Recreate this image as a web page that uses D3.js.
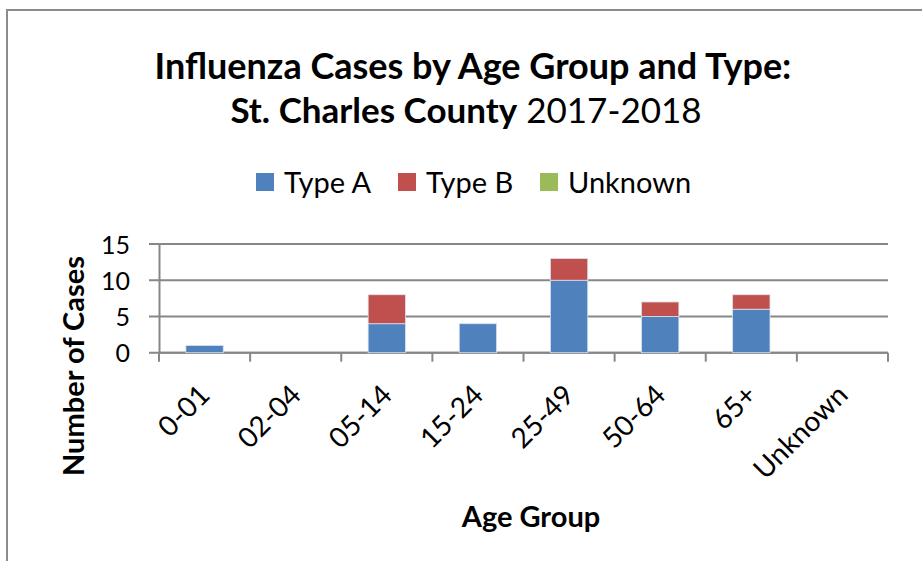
<!DOCTYPE html>
<html><head><meta charset="utf-8">
<script src="https://cdn.jsdelivr.net/npm/d3@7"></script>
<style>body{margin:0;background:#fff;} svg{display:block;}</style>
</head><body>
<script>
const categories = ["0-01","02-04","05-14","15-24","25-49","50-64","65+","Unknown"];
const seriesNames = ["Type A","Type B","Unknown"];
const typeA = [1,0,4,4,10,5,6,0];
const typeB = [0,0,4,0,3,2,2,0];
const typeUnknown = [0,0,0,0,0,0,0,0];
const yTicks = [0,5,10,15];
const colors = ["#4F81BD","#C0504D","#9BBB59"];

(function(){
const W = 922, H = 561;
const FONT = "Lato, 'Open Sans', sans-serif";
const svg = d3.select("body").append("svg").attr("width", W).attr("height", H);
svg.append("rect").attr("width", W).attr("height", H).attr("fill", "#fff");
// outer border
svg.append("rect").attr("x", 7).attr("y", 10).attr("width", 930).attr("height", 570)
  .attr("fill", "none").attr("stroke", "#8c8c8c").attr("stroke-width", 2);

const pLeft = 159, pRight = 888, pTop = 244, pBottom = 352.7;
const x = d3.scaleBand().domain(categories).range([pLeft, pRight]).padding(0);
const y = d3.scaleLinear().domain([0, 15]).range([pBottom, pTop]);

// gridlines
svg.append("g").selectAll("line").data(yTicks).join("line")
  .attr("x1", pLeft - 10).attr("x2", pRight).attr("y1", d => y(d)).attr("y2", d => y(d))
  .attr("stroke", "#878787").attr("stroke-width", 2);

// y axis
const yAxis = svg.append("g").attr("transform", `translate(${pLeft},0)`)
  .call(d3.axisLeft(y).tickValues(yTicks).tickSize(0).tickPadding(29));
yAxis.select(".domain").attr("stroke", "#878787").attr("stroke-width", 2);
yAxis.selectAll("text").attr("font-family", FONT).attr("font-size", 25).attr("fill", "#000")
  .attr("dy", "0.36em");

// x axis
const xAxis = svg.append("g").attr("transform", `translate(0,${pBottom})`)
  .call(d3.axisBottom(x).tickSize(0).tickFormat(""));
xAxis.select(".domain").remove();
const bounds = categories.map(c => x(c)).concat([pRight]);
xAxis.selectAll("line.b").data(bounds).join("line").attr("class","b")
  .attr("x1", d => d).attr("x2", d => d).attr("y1", 0).attr("y2", 9)
  .attr("stroke", "#878787").attr("stroke-width", 2);
svg.append("line").attr("x1", pLeft).attr("x2", pRight).attr("y1", pBottom).attr("y2", pBottom)
  .attr("stroke", "#878787").attr("stroke-width", 2);

// x labels
svg.append("g").selectAll("text").data(categories).join("text")
  .attr("transform", d => `translate(${x(d) + x.bandwidth()/2 + 7},${pBottom + 44}) rotate(-45)`)
  .attr("text-anchor", "end").attr("font-family", FONT).attr("font-size", 28).attr("fill", "#000")
  .text(d => d);

// bars
const table = categories.map((c, i) => ({cat: c, "Type A": typeA[i], "Type B": typeB[i], "Unknown": typeUnknown[i]}));
const stack = d3.stack().keys(seriesNames)(table);
const bw = x.bandwidth() * 0.41;
svg.append("g").selectAll("g").data(stack).join("g").attr("fill", (d, i) => colors[i])
  .selectAll("rect").data(d => d).join("rect")
  .attr("x", d => x(d.data.cat) + (x.bandwidth() - bw)/2)
  .attr("width", bw)
  .attr("y", d => y(d[1]))
  .attr("height", d => y(d[0]) - y(d[1]))
  .attr("stroke", d => (d[1] - d[0]) > 0 ? "#dbe3ef" : "none").attr("stroke-width", 0.8);

// title
const cx = 470;
svg.append("text").attr("x", 473).attr("y", 79).attr("text-anchor", "middle")
  .attr("font-family", FONT).attr("font-size", 36).attr("font-weight", "bold").attr("fill", "#000")
  .text("Influenza Cases by Age Group and Type:");
const t2 = svg.append("text").attr("x", 466).attr("y", 123).attr("text-anchor", "middle")
  .attr("font-family", FONT).attr("font-size", 35).attr("fill", "#000");
t2.append("tspan").attr("font-weight", "bold").text("St. Charles County");
t2.append("tspan").text(" 2017-2018");

// legend
const legendX = [256, 398, 540];
const lg = svg.append("g").selectAll("g").data(seriesNames).join("g")
  .attr("transform", (d, i) => `translate(${legendX[i]},173)`);
lg.append("rect").attr("width", 18).attr("height", 18).attr("fill", (d, i) => colors[i]);
lg.append("text").attr("x", 28).attr("y", 20).attr("font-family", FONT).attr("font-size", 29)
  .attr("fill", "#000").text(d => d);

// axis titles
svg.append("text").attr("x", 531).attr("y", 527).attr("text-anchor", "middle")
  .attr("font-family", FONT).attr("font-size", 29).attr("font-weight", "bold").attr("fill", "#000")
  .text("Age Group");
svg.append("text").attr("transform", "translate(84,366) rotate(-90)").attr("text-anchor", "middle")
  .attr("font-family", FONT).attr("font-size", 29).attr("font-weight", "bold").attr("fill", "#000")
  .text("Number of Cases");
})();
</script>
</body></html>
